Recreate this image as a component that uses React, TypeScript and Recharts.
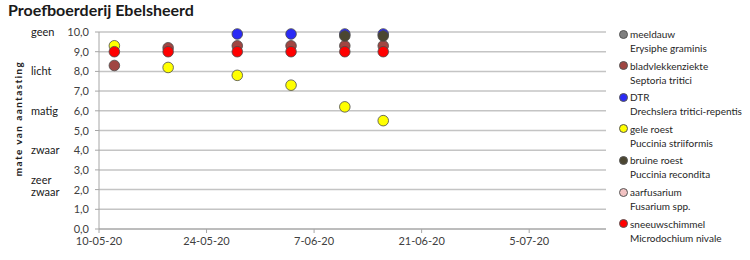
import React from 'react';
import { ScatterChart, Scatter, XAxis, YAxis, CartesianGrid } from 'recharts';

const title = 'Proefboerderij Ebelsheerd';
const yTitle = 'mate van aantasting';
const dates = ['2020-05-12', '2020-05-19', '2020-05-28', '2020-06-04', '2020-06-11', '2020-06-16'];
const xStart = '2020-05-10';
const xEnd = '2020-07-15';
const xTickDates = ['2020-05-10', '2020-05-24', '2020-06-07', '2020-06-21', '2020-07-05'];
const yTicks = [0, 1, 2, 3, 4, 5, 6, 7, 8, 9, 10];
const severityLabels: { value: number; lines: string[] }[] = [
  { value: 10, lines: ['geen'] },
  { value: 8, lines: ['licht'] },
  { value: 6, lines: ['matig'] },
  { value: 4, lines: ['zwaar'] },
  { value: 2, lines: ['zeer', 'zwaar'] },
];

const meeldauw: (number | null)[] = [null, null, null, null, null, null];
const bladvlekkenziekte: (number | null)[] = [8.3, 9.2, 9.3, 9.3, 9.3, 9.3];
const dtr: (number | null)[] = [null, null, 9.9, 9.9, 9.9, 9.9];
const geleRoest: (number | null)[] = [9.3, 8.2, 7.8, 7.3, 6.2, 5.5];
const bruineRoest: (number | null)[] = [null, null, null, null, 9.8, 9.8];
const aarfusarium: (number | null)[] = [null, null, null, null, null, null];
const sneeuwschimmel: (number | null)[] = [9.0, 9.0, 9.0, 9.0, 9.0, 9.0];

const seriesNames = ['meeldauw', 'bladvlekkenziekte', 'DTR', 'gele roest', 'bruine roest', 'aarfusarium', 'sneeuwschimmel'];
const seriesLatin = ['Erysiphe graminis', 'Septoria tritici', 'Drechslera tritici-repentis', 'Puccinia striiformis', 'Puccinia recondita', 'Fusarium spp.', 'Microdochium nivale'];
const seriesColors = ['#7f7f7f', '#a04642', '#2a2af5', '#ffff00', '#4b4631', '#f2c2c2', '#ff0000'];
const seriesValues = [meeldauw, bladvlekkenziekte, dtr, geleRoest, bruineRoest, aarfusarium, sneeuwschimmel];

const FONT = 'Lato, "Open Sans", sans-serif';
const TEXT = '#404040';

const toDay = (s: string) => Date.UTC(+s.slice(0, 4), +s.slice(5, 7) - 1, +s.slice(8, 10)) / 86400000;
const fmtDate = (d: number) => {
  const dt = new Date(d * 86400000);
  const dd = dt.getUTCDate();
  const mm = String(dt.getUTCMonth() + 1).padStart(2, '0');
  const yy = String(dt.getUTCFullYear()).slice(2);
  return `${dd}-${mm}-${yy}`;
};

const buildData = (vals: (number | null)[]) =>
  dates
    .map((d, i) => ({ x: toDay(d), y: vals[i] }))
    .filter((p) => p.y !== null);

const YTick = (props: any) => {
  const { x, y, payload } = props;
  const v = payload.value as number;
  const lab = severityLabels.find((s) => s.value === v);
  return (
    <g>
      <text x={x} y={y} dy={4} textAnchor="end" fontSize={11} fill={TEXT} fontFamily={FONT}>
        {v.toFixed(1).replace('.', ',')}
      </text>
      {lab &&
        lab.lines.map((ln, i) => (
          <text
            key={i}
            x={31}
            y={y}
            dy={lab.lines.length > 1 ? (i === 0 ? -6 : 6) : 4}
            textAnchor="start"
            fontSize={11}
            fill="#202020"
            fontFamily={FONT}
          >
            {ln}
          </text>
        ))}
    </g>
  );
};

const YTitle = (props: any) => {
  const vb = props.viewBox;
  const cy = vb.y + vb.height / 2 - 12;
  const cx = 18;
  return (
    <text
      x={cx}
      y={cy}
      transform={`rotate(-90 ${cx} ${cy})`}
      textAnchor="middle"
      dominantBaseline="central"
      fontSize={10}
      fontWeight="bold"
      letterSpacing={1.4}
      fill="#202020"
      fontFamily={FONT}
    >
      {yTitle}
    </text>
  );
};

const makeShape = (color: string) => (props: any) => {
  if (props.cx == null || props.cy == null) return <g />;
  return <circle cx={props.cx} cy={props.cy} r={5.3} fill={color} stroke="#4a4a4a" strokeWidth={0.8} />;
};

export default function App() {
  return (
    <div style={{ position: 'absolute', left: 0, top: 0, width: 750, height: 260, background: '#fff' }}>
      <div
        style={{
          position: 'absolute',
          left: 8,
          top: 0,
          fontFamily: FONT,
          fontWeight: 'bold',
          fontSize: 16,
          color: '#1a1a1a',
          lineHeight: '20px',
        }}
      >
        {title}
      </div>
      <ScatterChart width={750} height={260} margin={{ top: 32, right: 144, bottom: 11, left: 0 }}>
        <CartesianGrid horizontal vertical={false} stroke="#c4c4c4" strokeWidth={1.5} />
        <XAxis
          type="number"
          dataKey="x"
          domain={[toDay(xStart), toDay(xEnd)]}
          ticks={xTickDates.map(toDay)}
          tickFormatter={fmtDate}
          height={20}
          tick={{ fontSize: 11, fill: TEXT, fontFamily: FONT }}
          tickSize={4}
          tickMargin={4}
          stroke="#a6a6a6"
          allowDataOverflow
        />
        <YAxis
          type="number"
          dataKey="y"
          domain={[0, 10]}
          ticks={yTicks}
          width={99}
          tick={<YTick />}
          tickSize={4}
          tickMargin={6}
          stroke="#a6a6a6"
          interval={0}
          label={<YTitle />}
        />
        {seriesValues.map((vals, i) => (
          <Scatter
            key={seriesNames[i]}
            name={seriesNames[i]}
            data={buildData(vals)}
            fill={seriesColors[i]}
            shape={makeShape(seriesColors[i])}
            isAnimationActive={false}
          />
        ))}
      </ScatterChart>
      <div style={{ position: 'absolute', left: 619, top: 0, fontFamily: FONT, fontSize: 10, color: '#262626' }}>
        {seriesNames.map((n, i) => (
          <div key={n} style={{ position: 'absolute', left: 0, top: 27 + i * 31.6, width: 131, lineHeight: '14px' }}>
            <div style={{ display: 'flex', alignItems: 'center' }}>
              <span
                style={{
                  display: 'inline-block',
                  width: 7,
                  height: 7,
                  borderRadius: '50%',
                  background: seriesColors[i],
                  border: '1px solid #555',
                  marginRight: 2,
                }}
              />
              <span>{n}</span>
            </div>
            <div style={{ paddingLeft: 11, whiteSpace: 'nowrap' }}>{seriesLatin[i]}</div>
          </div>
        ))}
      </div>
    </div>
  );
}
